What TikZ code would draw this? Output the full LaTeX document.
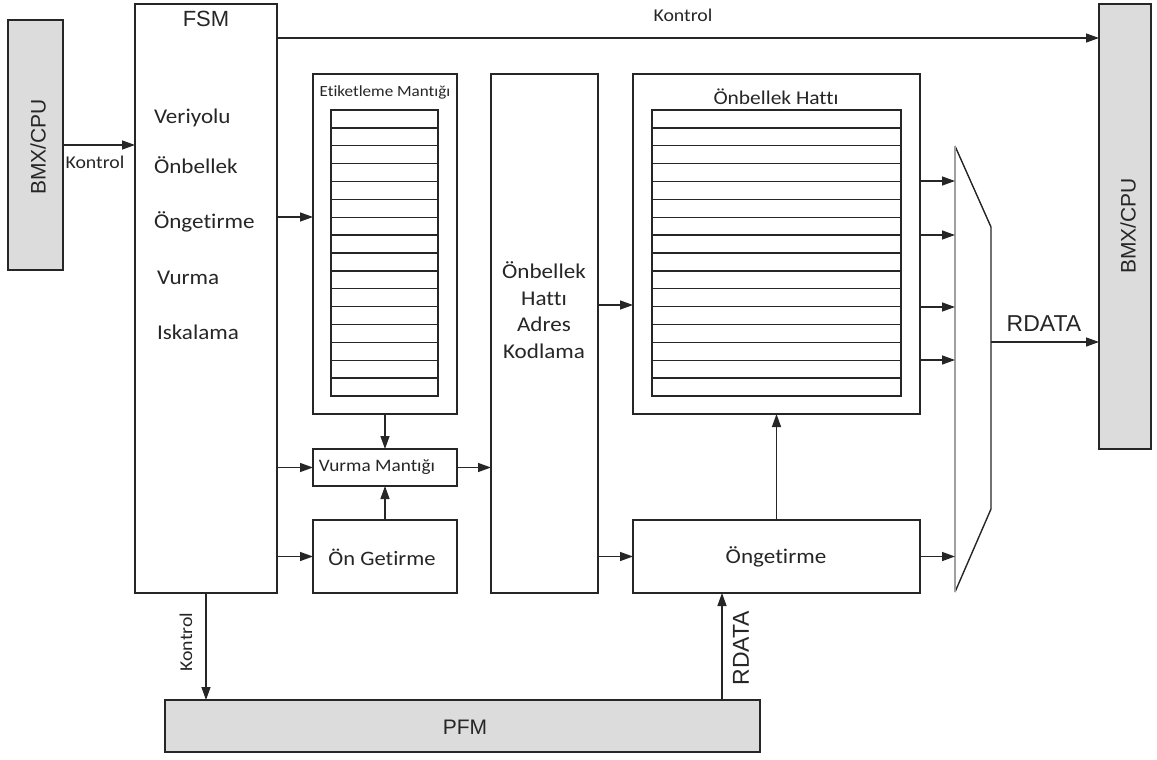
\documentclass[tikz,border=0pt]{standalone}
\usepackage{fontspec}
\setmainfont{Carlito}[FakeStretch=1.1, Ligatures=NoCommon]
\newfontfamily\headfont{Liberation Sans}
\usetikzlibrary{arrows.meta,calc}
\definecolor{ink}{HTML}{262626}
\definecolor{unitgray}{HTML}{DCDCDC}
\definecolor{edgegray}{HTML}{A0A0A0}
\begin{document}
\begin{tikzpicture}[x=1pt,y=-1pt,
  every node/.style={inner sep=0pt, outer sep=0pt, text=ink},
  blk/.style={draw=ink, line width=1.4pt, fill=white, rectangle},
  unit/.style={blk, fill=unitgray},
  arr/.style={draw=ink, line width=1.4pt, -{Triangle[length=13pt,width=9pt]}},
  wire/.style={draw=ink, line width=1.4pt},
  sig/.style={font=\fontsize{18}{20}\selectfont},
  item/.style={font=\fontsize{21}{24}\selectfont, anchor=base west},
  head/.style={font=\headfont\fontsize{21}{25}\selectfont},
  bus/.style={font=\headfont\fontsize{23}{26}\selectfont}]
\useasboundingbox (0,0) rectangle (1157,760);

% ---- external units ----
\node[unit, minimum width=55pt, minimum height=250pt] (cpuL) at (35.5,145) {};
\node[head, rotate=90] (cpuLt) at (38,147) {BMX/CPU};
\node[unit, minimum width=52pt, minimum height=445pt] (cpuR) at (1125,226.5) {};
\node[head, rotate=90] (cpuRt) at (1128,226) {BMX/CPU};
\node[unit, minimum width=595pt, minimum height=52pt] (pfm) at (462.5,726) {};
\node[head] (pfmt) at (465,727) {PFM};

% ---- state machine ----
\node[blk, minimum width=142pt, minimum height=589pt] (fsm) at (206,298.5) {};
\node[head, font=\headfont\fontsize{22}{26}\selectfont] (fsmt) at (206,19) {FSM};
\node[item] (s1) at (154,123) {Veriyolu};
\node[item] (s2) at (154,173) {Önbellek};
\node[item] (s3) at (154,228) {Öngetirme};
\node[item] (s4) at (157,284) {Vurma};
\node[item] (s5) at (157,339) {Iskalama};

% ---- tag logic ----
\node[blk, minimum width=144pt, minimum height=340pt] (tag) at (385,244) {};
\node[font=\fontsize{15.5}{18}\selectfont] (tagt) at (385,92) {Etiketleme Mantığı};
\node[blk, minimum width=107pt, minimum height=286pt] (tagtab) at (384.5,253) {};
\foreach \i in {1,...,15}
  \draw[wire] (331,{110+\i*17.875}) -- (438,{110+\i*17.875});

\node[blk, minimum width=144pt, minimum height=37pt] (hit) at (385,467.5) {};
\node[font=\fontsize{17.5}{20}\selectfont] (hitt) at (377,467) {Vurma Mantığı};
\node[blk, minimum width=144pt, minimum height=73pt] (pre1) at (385,556.5) {};
\node[font=\fontsize{20.5}{24}\selectfont] (pre1t) at (382,557) {Ön Getirme};

% ---- address encoder ----
\node[blk, minimum width=107pt, minimum height=519pt] (addr) at (544.5,333.5) {};
\node[font=\fontsize{21}{26.5}\selectfont, align=center] (addrt) at (544,310)
  {Önbellek\\Hattı\\Adres\\Kodlama};

% ---- cache lines ----
\node[blk, minimum width=287pt, minimum height=340pt] (line) at (776.5,244) {};
\node[font=\fontsize{19.5}{22}\selectfont] (linet) at (776,97) {Önbellek Hattı};
\node[blk, minimum width=249pt, minimum height=286pt] (linetab) at (776.5,253) {};
\foreach \i in {1,...,15}
  \draw[wire] (652,{110+\i*17.875}) -- (901,{110+\i*17.875});

\node[blk, minimum width=287pt, minimum height=73pt] (pre2) at (776.5,556.5) {};
\node[font=\fontsize{21}{24}\selectfont] (pre2t) at (776,557) {Öngetirme};

% ---- output multiplexer ----
\coordinate (mA) at (955,146);
\coordinate (mB) at (991,227);
\coordinate (mC) at (991,509);
\coordinate (mD) at (955,592);
\draw[wire] (mA) -- (mB) -- (mC) -- (mD);
\draw[edgegray, line width=1.8pt] (mD) -- (mA);

% ---- signal levels ----
\coordinate (yK) at (0,38);
\coordinate (yT) at (0,217);
\coordinate (yA) at (0,305);
\coordinate (r1) at (0,181);
\coordinate (r2) at (0,235);
\coordinate (r3) at (0,307);
\coordinate (r4) at (0,360);
\coordinate (yR) at (0,342);
\coordinate (xR) at (722,0);

% ---- connectors ----
\draw[arr] (cpuL.east) -- (fsm.west |- cpuL.east);
\node[sig] (k1) at (95,162) {Kontrol};

\draw[arr] (fsm.east |- yK) -- (cpuR.west |- yK);
\node[sig] (k2) at (683,15) {Kontrol};

\draw[arr] (fsm.east |- yT) -- (tag.west |- yT);
\draw[arr] (fsm.east |- hit.west) -- (hit.west);
\draw[arr] (fsm.east |- pre1.west) -- (pre1.west);
\draw[arr] (tag.south) -- (hit.north);
\draw[arr] (pre1.north) -- (hit.south);
\draw[arr] (hit.east) -- (addr.west |- hit.east);

\draw[arr] (addr.east |- yA) -- (line.west |- yA);
\draw[arr] (addr.east |- pre2.west) -- (pre2.west);
\draw[arr] (pre2.north) -- (line.south);

\foreach \r in {r1,r2,r3,r4}
  \draw[arr] (line.east |- \r) -- (mA |- \r);
\draw[arr] (pre2.east) -- (mA |- pre2.east);

\draw[arr] (mB |- yR) -- (cpuR.west |- yR);
\node[bus] (rd1) at (1044,324) {RDATA};

\draw[arr] (fsm.south) -- (fsm.south |- pfm.north);
\node[sig, rotate=90] (k3) at (186,642) {Kontrol};

\draw[arr] (pfm.north -| xR) -- (pre2.south -| xR);
\node[bus, rotate=90] (rd2) at (741,648) {RDATA};
\end{tikzpicture}
\end{document}
